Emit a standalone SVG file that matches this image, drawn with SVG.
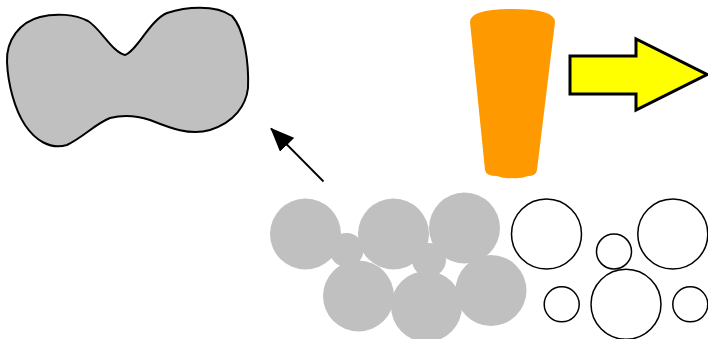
<svg xmlns="http://www.w3.org/2000/svg" width="708" height="339" viewBox="0 0 708 339">
<style>
.g{fill:#c0c0c0;stroke:none}
.o{fill:#fff;stroke:#000;stroke-width:1.5}
</style>
<defs>
<marker id="ah" markerWidth="24" markerHeight="20" refX="23" refY="10" orient="auto" markerUnits="userSpaceOnUse" viewBox="0 0 24 20">
<path d="M0,0 L24,10 L0,20 Z" fill="#000"/>
</marker>
</defs>
<rect width="708" height="339" fill="#fff"/>
<g id="blob">
<path d="M7,62 C6,40 20,22 40,17 C55,13 75,14 88,21 C100,28 112,52 125,55 C136,52 150,20 167,13 C185,7 215,4 232,16 C245,30 249,65 248,88 C246,105 235,122 210,130 C190,136 170,128 150,120 C138,116 125,114 110,118 C95,124 85,136 67,145 C50,150 35,140 25,125 C15,110 8,85 7,62 Z" fill="#c0c0c0" stroke="#000" stroke-width="2"/>
</g>
<g id="cup">
<path d="M470,22 Q470,9 512,9 Q555,9 555,22 L537,170 Q536,176 528,176 Q520,179 512,178 Q505,179 497,176 Q486,176 485,170 Z" fill="#ff9900"/>
</g>
<g id="yellow-arrow">
<path d="M570,56 L636,56 L636,39 L707,74.5 L636,110 L636,94 L570,94 Z" fill="#ffff00" stroke="#000" stroke-width="3"/>
</g>
<g id="filled-particles">
<circle class="g" cx="305.5" cy="234" r="35.5"/>
<circle class="g" cx="346.5" cy="250" r="17"/>
<circle class="g" cx="393.5" cy="234" r="35.5"/>
<circle class="g" cx="464.5" cy="228" r="35.5"/>
<circle class="g" cx="429" cy="260" r="17"/>
<circle class="g" cx="358.5" cy="296" r="35.5"/>
<circle class="g" cx="426.5" cy="306.5" r="35.5"/>
<circle class="g" cx="491" cy="290.5" r="35.5"/>
</g>
<g id="open-particles">
<circle class="o" cx="546.5" cy="234" r="35"/>
<circle class="o" cx="614" cy="251.5" r="17.5"/>
<circle class="o" cx="672.8" cy="234" r="35"/>
<circle class="o" cx="561.7" cy="304.3" r="17.5"/>
<circle class="o" cx="626" cy="304.3" r="35"/>
<circle class="o" cx="690.3" cy="304.3" r="17.5"/>
</g>
<g id="connectors">
<line x1="323.5" y1="181.5" x2="271" y2="128.5" stroke="#000" stroke-width="1.8" marker-end="url(#ah)"/>
</g>
</svg>
